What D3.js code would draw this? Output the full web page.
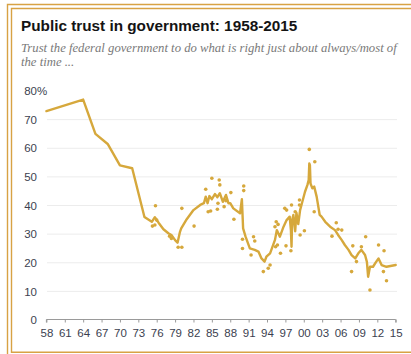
<!DOCTYPE html>
<html><head><meta charset="utf-8">
<script src="https://cdn.jsdelivr.net/npm/d3@7"></script>
<style>html,body{margin:0;padding:0;background:#fff;}svg{display:block;}</style>
</head><body>
<script>
// ---- data ----
const title = "Public trust in government: 1958-2015";
const subtitleLines = ["Trust the federal government to do what is right just about always/most of", "the time ..."];
const yTicks = [0, 10, 20, 30, 40, 50, 60, 70, 80];
const xTicks = [1958,1961,1964,1967,1970,1973,1976,1979,1982,1985,1988,1991,1994,1997,2000,2003,2006,2009,2012,2015];
// moving-average line: [year, percent]
const lineYears = [1958,1964,1966,1968,1970,1972,1974,1975.2,1975.7,1976.3,1977.1,1977.9,1978.4,1979.0,1979.4,1979.8,1980.0,1980.9,1982.0,1983.1,1983.7,1984.0,1984.3,1984.6,1985.0,1985.5,1985.9,1986.3,1986.8,1987.3,1987.7,1988.0,1988.5,1989.6,1989.9,1990.1,1990.5,1991.2,1992.0,1992.6,1993.1,1993.6,1993.9,1994.5,1995.3,1995.6,1996.1,1996.7,1997.2,1997.7,1997.9,1998.0,1998.1,1998.3,1998.6,1998.8,1999.1,1999.4,1999.7,2000.2,2000.6,2000.8,2000.9,2001.0,2001.1,2001.4,2001.7,2002.1,2002.6,2002.9,2003.5,2004.3,2005.1,2005.6,2006.2,2006.7,2007.3,2007.8,2008.4,2008.9,2009.4,2010.0,2010.3,2010.5,2010.8,2011.3,2011.8,2012.2,2012.7,2013.5,2015];
const lineValues = [73,77,65,61.5,54,53,36,34.3,35.9,34,31.7,30.3,29.7,27.9,27,30.8,32,35.2,38.4,40.2,40.8,43.1,40.8,43.3,42.2,44,42.9,44.3,41.3,43.7,40.8,40.8,39,37.3,42.2,32,29.1,25,24.5,23.9,21.5,20.4,22.1,23.3,28,31.4,29.1,32.6,34.9,36.1,31.4,25.6,34.9,36.7,31,37.5,33.5,38.4,40.8,44.8,47.2,48.9,54.7,54.1,47.7,46,46.6,43.1,36.7,36.1,34.3,32.6,31.4,29.7,27.9,26.2,24.5,22.7,21.5,23.3,24.5,22.7,20.3,15.1,18.6,18.6,20.3,21.5,19.2,18.6,19.2];
// individual polls: [year, percent]
const pollYears = [1975.8,1975.3,1975.7,1976.0,1978.1,1978.4,1979.5,1980.1,1980.1,1982.1,1985.0,1986.2,1986.3,1984.0,1984.4,1984.8,1985.9,1986.0,1987.0,1987.3,1988.1,1988.6,1990.2,1990.2,1990.0,1990.0,1991.4,1991.8,1992.0,1993.4,1994.2,1994.5,1995.3,1995.5,1995.8,1995.4,1995.7,1996.2,1996.9,1997.2,1997.1,1997.9,1998.0,1998.6,1999.3,1999.3,1999.4,2000.1,2000.9,2001.8,2001.7,2004.6,2005.3,2005.6,2006.2,2008.0,2008.6,2007.8,2009.4,2010.1,2010.8,2012.2,2013.0,2013.1,2013.5];
const pollValues = [39.9,32.8,33.2,34.9,29.3,28.5,25.4,25.4,39,32.8,49.5,48.9,47.2,45.7,37.8,38.1,38.7,40.8,39.6,41.7,44.5,35.2,46.8,45.2,28.2,25,22.7,29.1,27.6,16.9,18.1,19.2,32.6,34.3,33.4,25.6,26.2,23.3,39,38.4,25.9,24.2,40.2,37.8,40.2,41.9,29.7,31.2,59.6,55.3,37.8,29.3,34,31.7,31.4,25.9,20.4,16.9,25.6,29.1,10.5,26.2,16.9,24.2,13.7];

const W = 411, H = 354;
const gold = "#d6a83c", frame = "#d8a244";
const svg = d3.select("body").append("svg").attr("width", W).attr("height", H);

// frame (double gold border)
const fr = svg.append("g").attr("fill", "none").attr("stroke", frame).attr("stroke-width", 1.4);
fr.append("path").attr("d", `M7.5,${H} V4.5 H${W}`);
fr.append("path").attr("d", `M${W},8.5 H11.5 V352.2 H${W}`);

// titles
svg.append("text").attr("x", 21).attr("y", 30.5).text(title)
  .attr("font-family", "Liberation Sans, Arial, sans-serif").attr("font-weight", "bold")
  .attr("font-size", "15.3px").attr("fill", "#141414");
subtitleLines.forEach((s, i) => {
  svg.append("text").attr("x", 21).attr("y", 52 + i * 14).text(s)
    .attr("font-family", "Liberation Serif, Times New Roman, serif").attr("font-style", "italic")
    .attr("font-size", "12.7px").attr("fill", "#7a7a7a");
});

const x = d3.scaleLinear().domain([1958, 2015]).range([46.4, 395.7]);
const y = d3.scaleLinear().domain([0, 80]).range([320, 91]);

// gridlines
svg.append("g").selectAll("line").data(yTicks.filter(d => d > 0 && d < 80)).join("line")
  .attr("x1", 47).attr("x2", 397).attr("y1", d => y(d)).attr("y2", d => y(d))
  .attr("stroke", "#ececec").attr("stroke-width", 1);

// y labels
const yl = svg.append("g").attr("font-family", "Liberation Sans, Arial, sans-serif")
  .attr("font-size", "11.5px").attr("fill", "#3c3f50");
yl.selectAll("text").data(yTicks).join("text")
  .attr("x", 37).attr("y", d => y(d)).attr("dy", "0.36em").attr("text-anchor", "end")
  .text(d => d);
yl.append("text").attr("x", 37).attr("y", y(80)).attr("dy", "0.36em").text("%");

// x axis
const xAxis = d3.axisBottom(x).tickValues(xTicks).tickSize(3).tickPadding(6)
  .tickFormat(d => String(d % 100).padStart(2, "0"));
const gx = svg.append("g").attr("transform", "translate(0,319.5)").call(xAxis);
gx.select(".domain").attr("stroke", "#9a9a9a").attr("d", `M${x(1958)},3V0H${x(2015)}V3`);
gx.selectAll(".tick line").attr("stroke", "#9a9a9a");
gx.selectAll(".tick text").attr("font-family", "Liberation Sans, Arial, sans-serif")
  .attr("font-size", "11.5px").attr("fill", "#3c3f50");

// polls (dots)
const polls = pollYears.map((d, i) => [d, pollValues[i]]);
svg.append("g").selectAll("circle").data(polls).join("circle")
  .attr("cx", d => x(d[0])).attr("cy", d => y(d[1])).attr("r", 1.8).attr("fill", gold);

// line
const lineData = lineYears.map((d, i) => [d, lineValues[i]]);
svg.append("path").datum(lineData)
  .attr("d", d3.line().x(d => x(d[0])).y(d => y(d[1])))
  .attr("fill", "none").attr("stroke", gold).attr("stroke-width", 2.4)
  .attr("stroke-linejoin", "round").attr("stroke-linecap", "round");
</script>
</body></html>
